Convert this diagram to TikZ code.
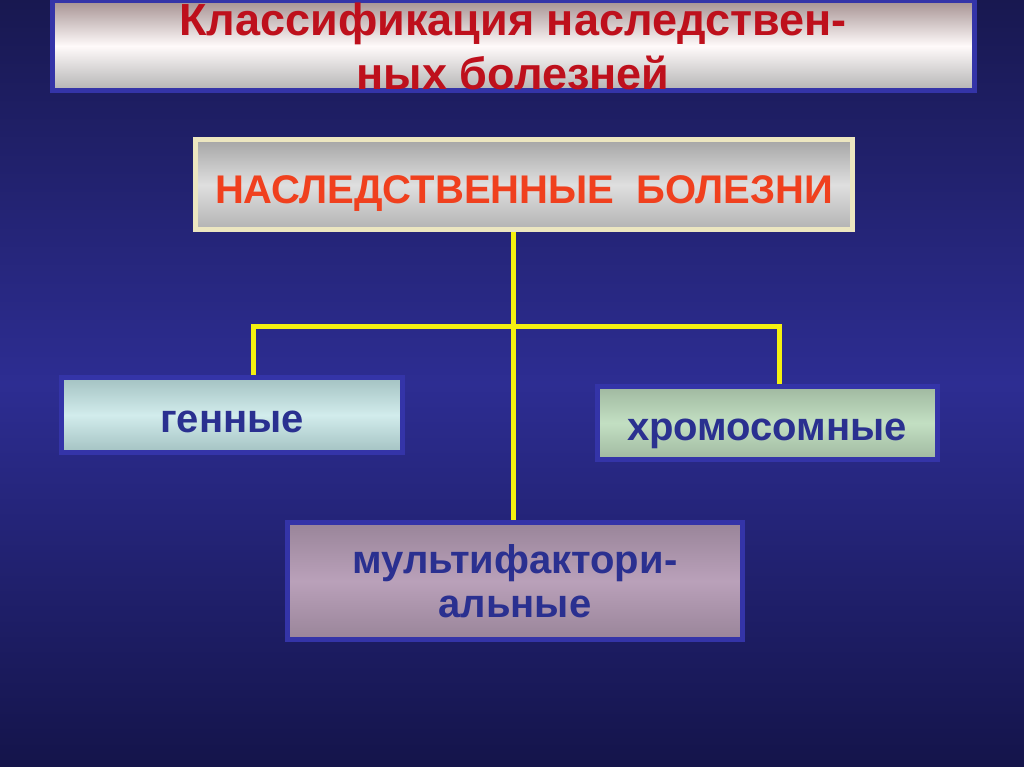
\documentclass[tikz,border=0pt]{standalone}
\usepackage{fontspec}
\setmainfont{Liberation Sans}
\definecolor{bgtop}{HTML}{181850}
\definecolor{bgmid}{HTML}{2D2D92}
\definecolor{bgbot}{HTML}{14144A}
\definecolor{frameblue}{HTML}{3434A8}
\definecolor{navytext}{HTML}{2A3090}
\definecolor{titlered}{HTML}{BE101C}
\definecolor{mainred}{HTML}{F0401E}
\definecolor{linkyellow}{HTML}{F4F010}
\definecolor{paleframe}{HTML}{ECE6C0}

\begin{document}
\begin{tikzpicture}[x=1pt,y=-1pt,
  box/.style={draw=frameblue,line width=5pt,inner sep=0pt,align=center,
    font=\bfseries\fontsize{40}{44}\selectfont,text=navytext},
  oneline/.style={text height=35pt,text depth=0pt},
  link/.style={draw=linkyellow,line width=5pt}]

\useasboundingbox (0,0) rectangle (1024,767);
\shade[top color=bgtop,bottom color=bgbot,middle color=bgmid] (0,0) rectangle (1024,767);

% title
\node[box,minimum width=922,minimum height=90,top color=gray!70!pink,bottom color=gray!60,
  middle color=white!92!pink,text=titlered,font=\bfseries\fontsize{45}{54}\selectfont]
  (title) at (513,46) {Классификация наследствен-\\ных болезней};

% boxes
\node[box,draw=paleframe,minimum width=657,minimum height=90,top color=gray!70,bottom color=gray!60,
  middle color=gray!25,text=mainred,text height=37pt,text depth=0pt]
  (hb) at (524,185) {НАСЛЕДСТВЕННЫЕ\ \ БОЛЕЗНИ};
\node[box,oneline,minimum width=341,minimum height=75,top color=cyan!20!gray!60,bottom color=cyan!20!gray!60,
  middle color=cyan!12!white!85!gray] (gen) at (232,415) {генные};
\node[box,oneline,minimum width=340,minimum height=73,top color=green!15!gray!65,bottom color=green!15!gray!65,
  middle color=green!15!white!75!gray] (chr) at (767,423) {хромосомные};
\node[box,minimum width=455,minimum height=117,top color=violet!20!gray!80,bottom color=violet!20!gray!80,
  middle color=violet!30!white!65!gray] (mf) at (515,581) {мультифактори-\\альные};

% links
\coordinate (hub) at (513,326);
\coordinate (gl) at (253,326);
\coordinate (cr) at (779,326);
\draw[link] (hb.south -| hub) -- (mf.north -| hub);
\draw[link] (gen.north -| gl) -- (gl) -- (cr) -- (chr.north -| cr);

\end{tikzpicture}
\end{document}
